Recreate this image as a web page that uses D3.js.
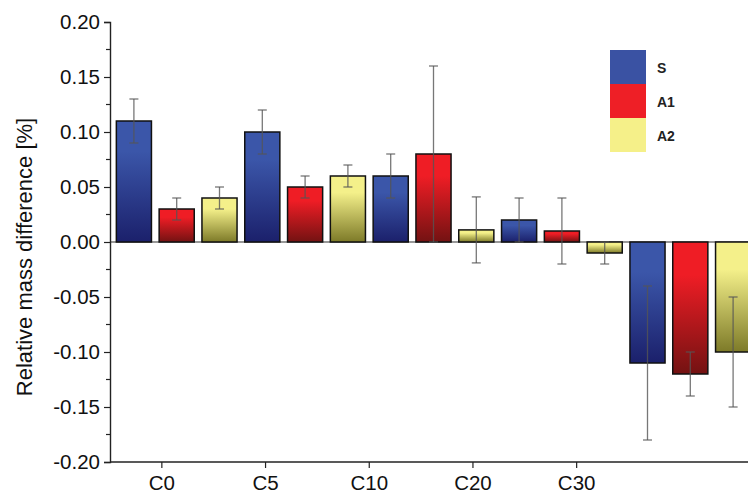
<!DOCTYPE html>
<html>
<head>
<meta charset="utf-8">
<script src="https://cdn.jsdelivr.net/npm/d3@7"></script>
<style>
  html, body { margin: 0; padding: 0; background: #fff; }
  svg { display: block; font-family: Arial, "Liberation Sans", sans-serif; }
</style>
</head>
<body>
<svg id="chart" width="748" height="495"></svg>
<script>
// Relative mass difference per mix, three series with standard deviations
const categories = ["C0", "C5", "C10", "C20", "C30"];
const seriesNames = ["S", "A1", "A2"];
const valuesS  = [0.11, 0.10, 0.06, 0.02, -0.11];
const valuesA1 = [0.03, 0.05, 0.08, 0.01, -0.12];
const valuesA2 = [0.04, 0.06, 0.011, -0.01, -0.10];
const errorsS  = [0.02, 0.02, 0.02, 0.02, 0.07];
const errorsA1 = [0.01, 0.01, 0.08, 0.03, 0.02];
const errorsA2 = [0.01, 0.01, 0.03, 0.01, 0.05];
const yTicks = [-0.20, -0.15, -0.10, -0.05, 0.00, 0.05, 0.10, 0.15, 0.20];

const seriesValues = [valuesS, valuesA1, valuesA2];
const seriesErrors = [errorsS, errorsA1, errorsA2];
const colors = {
  S:  { top: "#3b56a9", bottom: "#1b206b", flat: "#3a52a3" },
  A1: { top: "#ef1d25", bottom: "#731212", flat: "#ee1f26" },
  A2: { top: "#f4f08a", bottom: "#7d7a28", flat: "#f5f089" }
};

const svg = d3.select("#chart");
const plotLeft = 110, plotRight = 748, plotTop = 22, plotBottom = 462;

const y = d3.scaleLinear().domain([-0.20, 0.20]).range([plotBottom, plotTop]);

// Bars: groups laid out in bands, each group split into three series slots
const xGroup = d3.scaleBand().domain(categories).range([112.5, 754.5]).padding(0);
const xSeries = d3.scaleBand().domain(seriesNames).range([0, xGroup.bandwidth()])
  .paddingInner(0.18).paddingOuter(0.09);

// Category labels sit on their own band scale
const xLabel = d3.scaleBand().domain(categories).range([plotLeft, 628.5]);

// Gradients
const defs = svg.append("defs");
seriesNames.forEach(s => {
  const g = defs.append("linearGradient").attr("id", "grad-" + s)
    .attr("x1", 0).attr("y1", 0).attr("x2", 0).attr("y2", 1);
  g.append("stop").attr("offset", "0%").attr("stop-color", colors[s].top);
  g.append("stop").attr("offset", "25%").attr("stop-color", colors[s].top);
  g.append("stop").attr("offset", "100%").attr("stop-color", colors[s].bottom);
});
defs.append("clipPath").attr("id", "plotclip")
  .append("rect").attr("x", plotLeft).attr("y", 0).attr("width", plotRight - plotLeft).attr("height", 495);

const records = [];
categories.forEach((c, i) => {
  seriesNames.forEach((s, j) => {
    records.push({ cat: c, series: s, value: seriesValues[j][i], err: seriesErrors[j][i] });
  });
});

const plot = svg.append("g").attr("clip-path", "url(#plotclip)");

// Zero line
plot.append("line")
  .attr("x1", plotLeft).attr("x2", plotRight)
  .attr("y1", y(0)).attr("y2", y(0))
  .attr("stroke", "#333").attr("stroke-width", 1.2);

// Bars
plot.selectAll("rect.bar").data(records).join("rect")
  .attr("class", "bar")
  .attr("x", d => xGroup(d.cat) + xSeries(d.series))
  .attr("width", xSeries.bandwidth())
  .attr("y", d => Math.min(y(d.value), y(0)))
  .attr("height", d => Math.abs(y(d.value) - y(0)))
  .attr("fill", d => "url(#grad-" + d.series + ")")
  .attr("stroke", "#111").attr("stroke-width", 1.5);

// Error bars
const eb = plot.selectAll("g.err").data(records).join("g").attr("class", "err")
  .attr("stroke", "#555").attr("stroke-opacity", 0.8).attr("stroke-width", 1.3);
const cx = d => xGroup(d.cat) + xSeries(d.series) + xSeries.bandwidth() / 2;
eb.append("line")
  .attr("x1", cx).attr("x2", cx)
  .attr("y1", d => y(d.value + d.err)).attr("y2", d => y(d.value - d.err));
eb.append("line")
  .attr("x1", d => cx(d) - 4.5).attr("x2", d => cx(d) + 4.5)
  .attr("y1", d => y(d.value + d.err)).attr("y2", d => y(d.value + d.err));
eb.append("line")
  .attr("x1", d => cx(d) - 4.5).attr("x2", d => cx(d) + 4.5)
  .attr("y1", d => y(d.value - d.err)).attr("y2", d => y(d.value - d.err));

// Y axis with minor ticks; plain hyphen for negative labels
const fmt = v => d3.format(".2f")(v).replace("\u2212", "-");
const yAxis = svg.append("g").attr("transform", `translate(${plotLeft},0)`)
  .call(d3.axisLeft(y).tickValues(yTicks).tickFormat(fmt).tickSizeOuter(0).tickSize(6).tickPadding(4));
const minor = d3.range(-0.175, 0.2, 0.05);
yAxis.selectAll("line.minor").data(minor).join("line").attr("class", "minor")
  .attr("x1", -4).attr("x2", 0).attr("y1", d => y(d)).attr("y2", d => y(d))
  .attr("stroke", "#222").attr("stroke-width", 1.2);
yAxis.select(".domain").attr("stroke", "#222").attr("stroke-width", 1.4);
yAxis.selectAll(".tick line").attr("stroke", "#222").attr("stroke-width", 1.2);
yAxis.selectAll("text").attr("font-size", 20.5).attr("fill", "#111")
  .attr("font-family", "Arial, 'Liberation Sans', sans-serif");

// X axis
svg.append("line").attr("x1", plotLeft).attr("x2", plotRight).attr("y1", plotBottom).attr("y2", plotBottom)
  .attr("stroke", "#222").attr("stroke-width", 1.4);
const xAxis = svg.append("g").attr("transform", `translate(0,${plotBottom})`)
  .call(d3.axisBottom(xLabel).tickSizeOuter(0).tickSize(6).tickPadding(7));
xAxis.select(".domain").remove();
xAxis.selectAll(".tick line").attr("stroke", "#222").attr("stroke-width", 1.2);
xAxis.selectAll("text").attr("font-size", 20.5).attr("fill", "#111")
  .attr("font-family", "Arial, 'Liberation Sans', sans-serif");

// Axis title
svg.append("text")
  .attr("transform", `translate(32,257) rotate(-90)`)
  .attr("text-anchor", "middle")
  .attr("font-size", 22).attr("fill", "#111")
  .text("Relative mass difference [%]");

// Legend
const legend = svg.append("g").attr("transform", "translate(610,50)");
seriesNames.forEach((s, i) => {
  legend.append("rect").attr("x", 0).attr("y", i * 34).attr("width", 36).attr("height", 34)
    .attr("fill", colors[s].flat);
  legend.append("text").attr("x", 47).attr("y", i * 34 + 23)
    .attr("font-size", 14).attr("font-weight", "bold").attr("fill", "#222")
    .text(s);
});
</script>
</body>
</html>
